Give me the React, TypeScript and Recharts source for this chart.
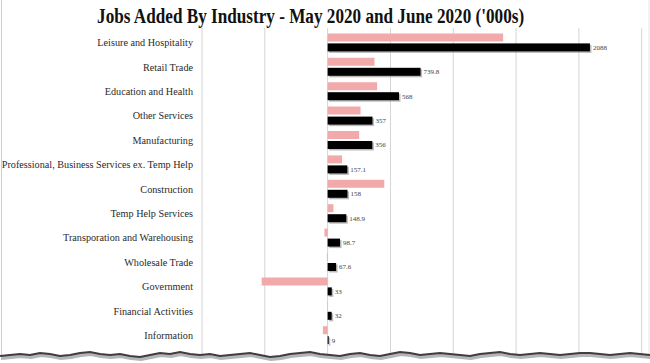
import React from 'react';
import { BarChart, Bar, XAxis, YAxis, CartesianGrid, LabelList } from 'recharts';

const categories = [
  'Leisure and Hospitality',
  'Retail Trade',
  'Education and Health',
  'Other Services',
  'Manufacturing',
  'Professional, Business Services ex. Temp Help',
  'Construction',
  'Temp Help Services',
  'Transporation and Warehousing',
  'Wholesale Trade',
  'Government',
  'Financial Activities',
  'Information',
];
const may2020 = [1397, 373, 394, 262, 251, 115, 451, 46, -25, -6, -525, -4, -38];
const june2020 = [2088, 739.8, 568, 357, 356, 157.1, 158, 148.9, 98.7, 67.6, 33, 32, 9];
const xTicks = [-1000, -500, 0, 500, 1000, 1500, 2000, 2500];
const titleText = "Jobs Added By Industry - May 2020 and June 2020 ('000s)";

// decorative torn-paper edge (not data)
const tornEdgeY = [
  356, 355, 354, 355, 353, 354, 356, 355, 353, 352, 354, 355, 354, 356, 357, 355, 353, 354, 352, 354,
  355, 354, 356, 355, 354, 353, 355, 357, 356, 354, 353, 352, 354, 355, 356, 354, 353, 355, 356, 354,
  352, 353, 355, 354, 353, 354, 355, 356, 354, 353, 352, 354, 355, 354, 353, 354, 355, 354, 353, 353,
  354, 355, 354, 353, 354, 355,
];

const serif = "'Liberation Serif', 'DejaVu Serif', serif";

const data = categories.map((name, i) => ({ name, may: may2020[i], june: june2020[i] }));

const ShadowBar = (props: any) => {
  const { x, y, width, height, fill } = props;
  if (x == null || y == null) return null;
  const w = Math.abs(width);
  const rx = width < 0 ? x + width : x;
  return (
    <g>
      <rect x={rx + 1.5} y={y + 1.5} width={w} height={height} fill="#8c8c8c" opacity={0.6} />
      <rect x={rx} y={y} width={w} height={height} fill={fill} />
    </g>
  );
};

const CategoryTick = (props: any) => {
  const { x, y, payload } = props;
  return (
    <text x={x} y={y} dy="0.35em" textAnchor="end" fontFamily={serif} fontSize={10.2} fill="#2a2a2a">
      {payload.value}
    </text>
  );
};

export default function App() {
  const edgePts = tornEdgeY.map((yy, i) => `${i * 10},${yy}`).join(' ');
  const fillPts = `0,363 ${edgePts} 650,363`;
  return (
    <div style={{ position: 'fixed', left: 0, top: 0, width: 650, height: 363, background: '#fff', overflow: 'hidden' }}>
      <BarChart
        width={650}
        height={363}
        data={data}
        layout="vertical"
        margin={{ top: 30.4, right: 8.3, bottom: 15.4, left: 0 }}
        barSize={8}
        barGap={2}
      >
        <CartesianGrid horizontal={false} stroke="#d4d4d4" y={28} height={328} />
        <XAxis type="number" domain={[-1000, 2500]} ticks={xTicks} hide />
        <YAxis
          type="category"
          dataKey="name"
          width={202}
          axisLine={false}
          tickLine={false}
          tickMargin={3}
          interval={0}
          tick={<CategoryTick />}
        />
        <Bar dataKey="may" fill="#f1a9a9" isAnimationActive={false} />
        <Bar dataKey="june" fill="#000000" isAnimationActive={false} shape={<ShadowBar />}>
          <LabelList
            dataKey="june"
            position="right"
            offset={3}
            style={{ fontSize: 7, fill: '#444', fontFamily: serif }}
          />
        </Bar>
      </BarChart>
      <svg width={650} height={363} style={{ position: 'absolute', left: 0, top: 0, pointerEvents: 'none' }}>
        <line x1={1.5} y1={0} x2={1.5} y2={356} stroke="#cfcfcf" strokeWidth={1} />
        <line x1={649} y1={0} x2={649} y2={356} stroke="#e6e6e6" strokeWidth={1} />
        <text
          x={310.6}
          y={22.7}
          textAnchor="middle"
          fontFamily={serif}
          fontWeight="bold"
          fontSize={20}
          fill="#111"
          textLength={427}
          lengthAdjust="spacingAndGlyphs"
        >
          {titleText}
        </text>
        <polygon points={fillPts} fill="#fff" />
        <polyline points={edgePts} fill="none" stroke="#b5b5b5" strokeWidth={4} transform="translate(1,2)" />
        <polyline points={edgePts} fill="none" stroke="#3e3e3e" strokeWidth={2} />
      </svg>
    </div>
  );
}
